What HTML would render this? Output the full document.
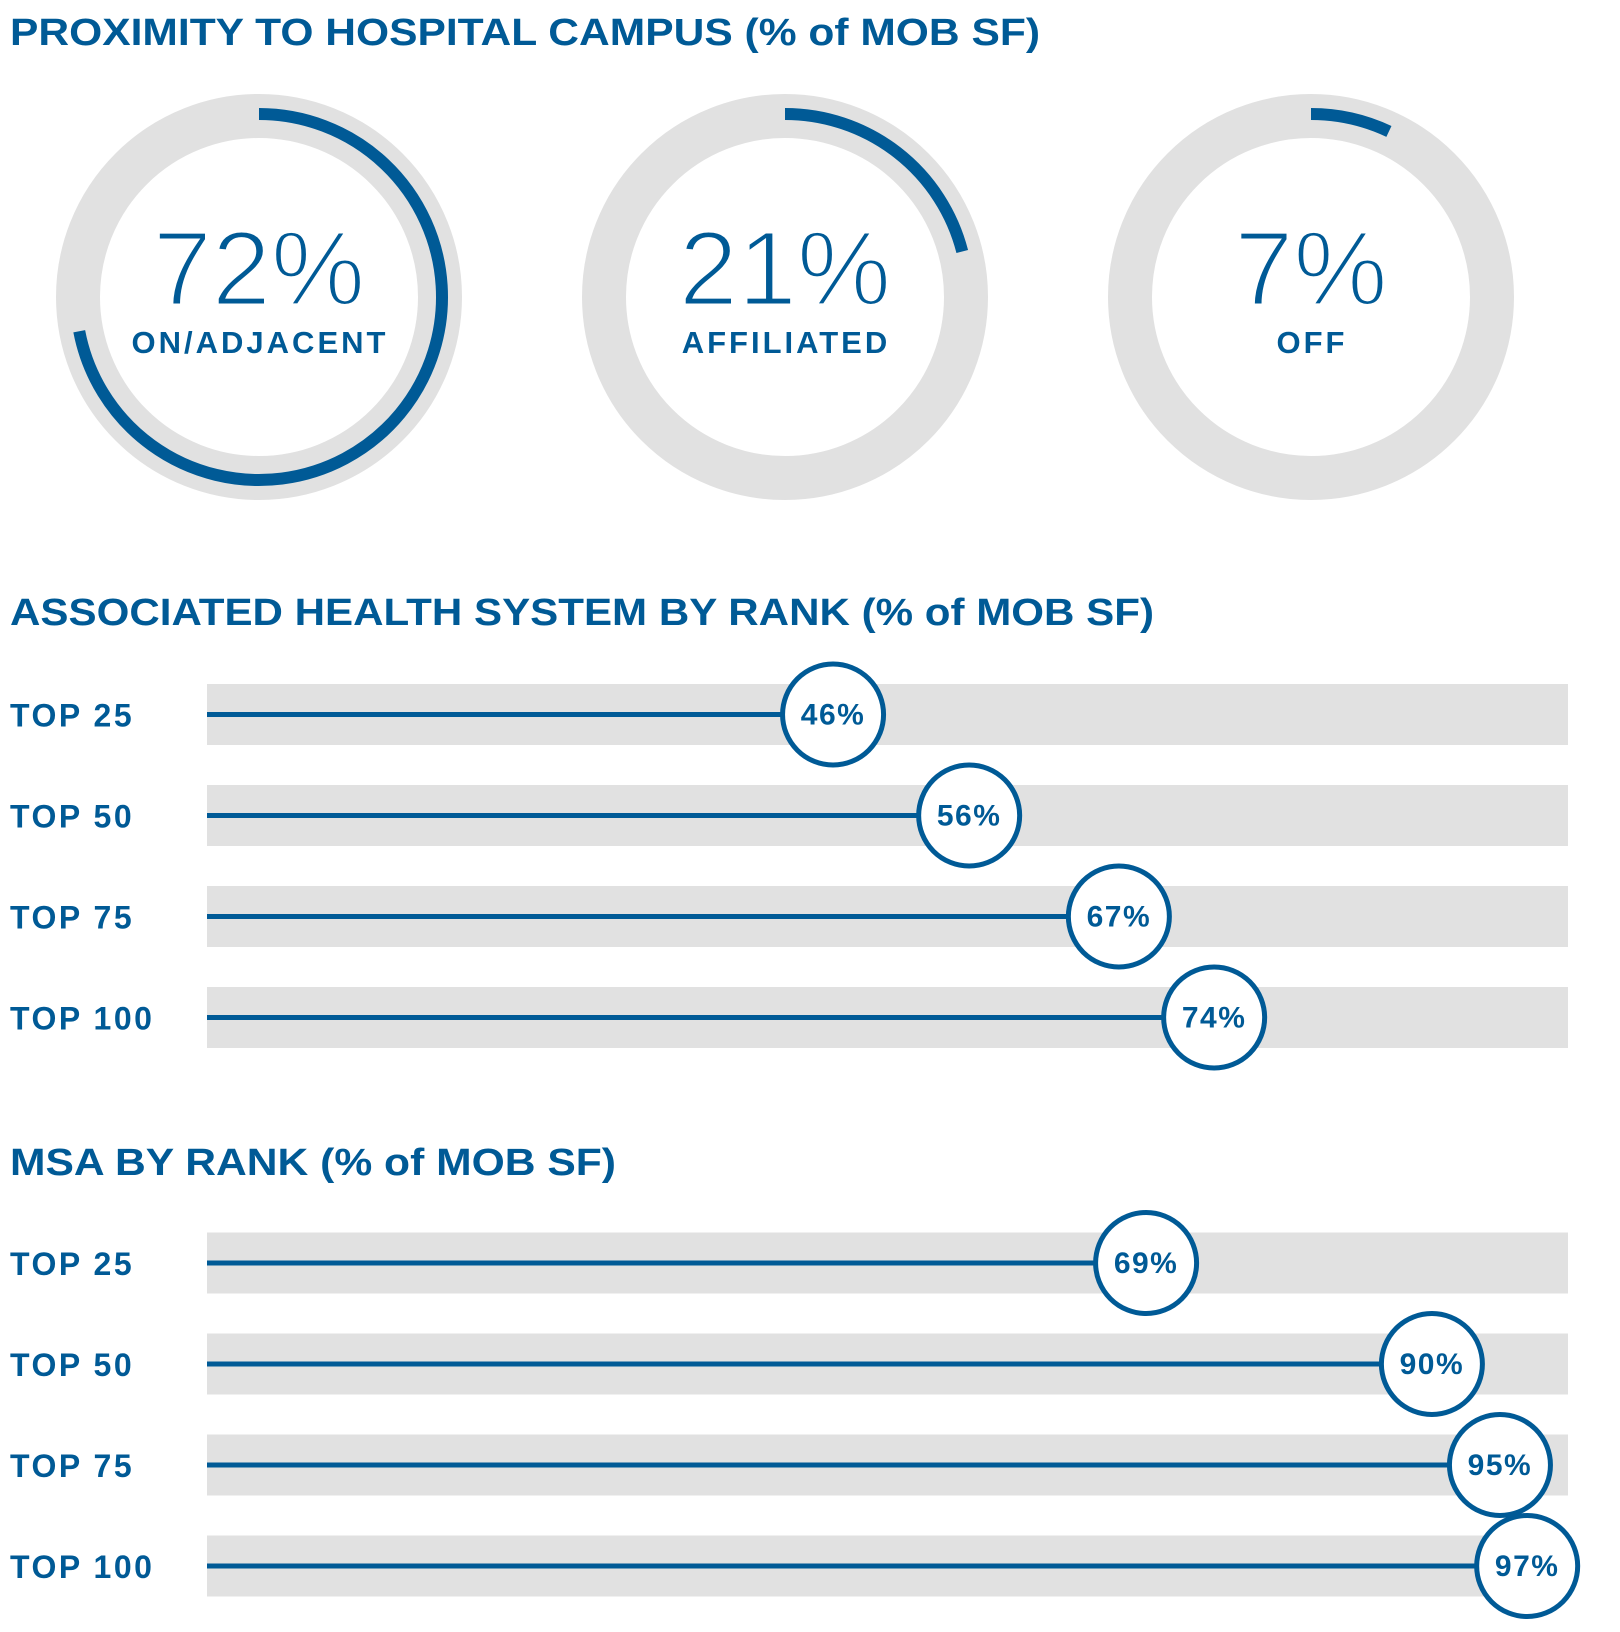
<!DOCTYPE html>
<html><head><meta charset="utf-8"><style>
html,body{margin:0;padding:0;background:#fff;}
svg{display:block;font-family:"Liberation Sans",sans-serif;}
</style></head><body>
<svg id="chart" width="1620" height="1632" viewBox="0 0 1620 1632" xmlns="http://www.w3.org/2000/svg">
<text x="10" y="45" font-size="38" font-weight="bold" fill="#005a96" textLength="1030" lengthAdjust="spacingAndGlyphs">PROXIMITY TO HOSPITAL CAMPUS (% of MOB SF)</text>
<text x="10" y="625" font-size="38" font-weight="bold" fill="#005a96" textLength="1144" lengthAdjust="spacingAndGlyphs">ASSOCIATED HEALTH SYSTEM BY RANK (% of MOB SF)</text>
<text x="10" y="1175" font-size="38" font-weight="bold" fill="#005a96" textLength="606" lengthAdjust="spacingAndGlyphs">MSA BY RANK (% of MOB SF)</text>
<g id="donuts"></g>
<g id="hs"></g>
<g id="msa"></g>
</svg>
<script>
const donutLabels = ["ON/ADJACENT","AFFILIATED","OFF"];
const donutValues = [72,21,7];
const rankCategories = ["TOP 25","TOP 50","TOP 75","TOP 100"];
const healthSystemValues = [46,56,67,74];
const msaValues = [69,90,95,97];

const NS="http://www.w3.org/2000/svg", BLUE="#005a96", GRAY="#e1e1e1";
function mk(tag, attrs, parent){const e=document.createElementNS(NS,tag);for(const k in attrs)e.setAttribute(k,attrs[k]);parent.appendChild(e);return e;}

const dg=document.getElementById('donuts');
const donutX = i => 259 + i*526;
const cy=297;
donutValues.forEach((v,i)=>{
  const cx=donutX(i);
  const ring=mk('circle',{cx:cx,cy:cy,r:181,fill:'none',stroke:GRAY,'stroke-width':44},dg);
  
  
  const a=v/100*2*Math.PI, r=183;
  const x2=cx+r*Math.sin(a), y2=cy-r*Math.cos(a);
  const arc=mk('path',{d:`M${cx},${cy-r} A${r},${r} 0 ${v>50?1:0} 1 ${x2.toFixed(2)},${y2.toFixed(2)}`,fill:'none',stroke:BLUE,'stroke-width':12},dg);
  
  
  const t=mk('text',{x:cx,y:cy+8,'text-anchor':'middle','font-size':106,fill:BLUE,stroke:'#fff','stroke-width':3},dg);
  t.textContent=v+'%';
  
  
  const l=mk('text',{x:cx+1,y:cy+56,'text-anchor':'middle','font-size':31,'font-weight':'bold','letter-spacing':3,fill:BLUE},dg);
  l.textContent=donutLabels[i];
  
  
});

const x0=207, x1=1568;
const xScale = v => x0 + (x1-x0)*v/100;
function bars(g, values, top){
  values.forEach((v,i)=>{
    const y=top+i*101;
    const lab=mk('text',{x:10,y:y+12,'font-size':32,'font-weight':'bold','letter-spacing':2.5,fill:BLUE},g);
    lab.textContent=rankCategories[i];
    
    
    const bg=mk('rect',{x:x0,y:y-30.5,width:x1-x0,height:61,fill:GRAY},g);
    
    
    const xv=xScale(v);
    const ln=mk('line',{x1:x0,y1:y,x2:xv,y2:y,stroke:BLUE,'stroke-width':5},g);
    
    
    const c=mk('circle',{cx:xv,cy:y,r:50.5,fill:'#fff',stroke:BLUE,'stroke-width':5},g);
    
    
    const t=mk('text',{x:xv,y:y+10,'text-anchor':'middle','font-size':30,'font-weight':'bold','letter-spacing':1.5,fill:BLUE},g);
    t.textContent=v+'%';
    
    
  });
}
bars(document.getElementById('hs'), healthSystemValues, 714.5);
bars(document.getElementById('msa'), msaValues, 1263);
</script>
</body></html>
